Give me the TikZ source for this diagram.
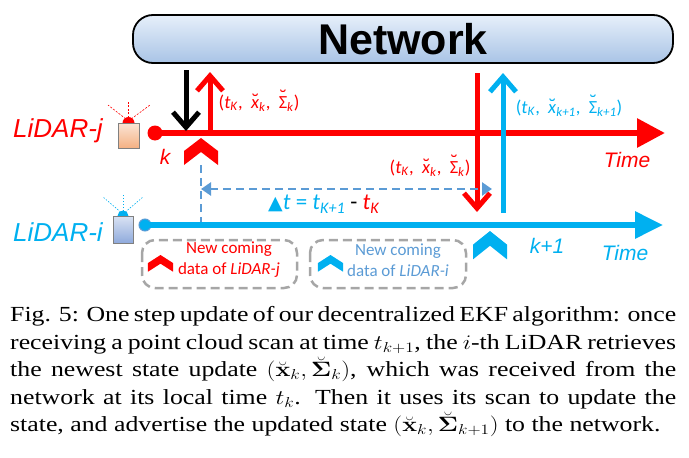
\documentclass[tikz,border=0pt]{standalone}
\usepackage[no-math]{fontspec}
\usepackage{graphicx}
\setmainfont{Liberation Serif}
\newfontfamily\carl{Carlito}
\newfontfamily\arl{Liberation Sans}
\newfontfamily\djv{DejaVu Sans}
\usetikzlibrary{arrows.meta}
\definecolor{jred}{HTML}{FF0000}
\definecolor{iblue}{HTML}{00B0F0}
\definecolor{dblue}{HTML}{5B9BD5}
\definecolor{bgray}{HTML}{A6A6A6}
\definecolor{netT}{HTML}{E6EFFA}
\definecolor{netB}{HTML}{A9C4E6}
\definecolor{peachT}{HTML}{FBE5D6}
\definecolor{peachB}{HTML}{F4B183}
\definecolor{lblueT}{HTML}{DAE3F3}
\definecolor{lblueB}{HTML}{8FAADC}
\newcommand\chevmark[5]{% x y xscale yscale color
  \fill[#5,shift={(#1,#2)},xscale=#3,yscale=#4] (0,0) -- (17,13) -- (17,27) -- (0,14) -- (-17,27) -- (-17,13) -- cycle;}
\newcommand\brv[2]{\leavevmode\ooalign{#2\cr\hidewidth\raisebox{#1}{\djv\char"02D8}\hidewidth\cr}}
\newcommand\tupl[2]{(\textit{t}\textsubscript{\textit{K}},\ \ \brv{0pt}{\textit{x}}\textsubscript{\textit{#1}},\ \ \brv{3.8pt}{Σ}\textsubscript{\textit{#2}})}
\tikzset{
  timeline/.style={line width=6pt},
  shaft/.style={line width=5pt, -{Straight Barb[length=15pt,width=26pt]}},
  tuplabel/.style={font=\carl\fontsize{18.5}{18.5}\selectfont, inner sep=0},
  biglabel/.style={font=\arl\itshape\fontsize{26}{26}\selectfont, inner sep=0},
  timelabel/.style={font=\arl\itshape\fontsize{21}{21}\selectfont, inner sep=0},
  legendbox/.style={draw=bgray, line width=2.5pt, dash pattern=on 9pt off 5pt, rounded corners=13pt},
  legendtext/.style={font=\carl\fontsize{17}{21}\selectfont, inner sep=0, align=center},
  dimline/.style={draw=dblue, line width=2.5pt, dash pattern=on 8pt off 5pt},
}
\begin{document}
\begin{tikzpicture}[x=1pt,y=-1pt]
\useasboundingbox (0,0) rectangle (689,458);
% network
\node[draw=black, line width=1.8pt, rounded corners=20pt, top color=netT, bottom color=netB,
  minimum width=540pt, minimum height=48pt, inner sep=0,
  font=\arl\bfseries\fontsize{43}{43}\selectfont] (net) at (403,39) {Network};
% sensors
\draw[jred, line width=0.6pt, dash pattern=on 2pt off 1.5pt] (128.5,121) -- (108,105);
\draw[jred, line width=0.6pt, dash pattern=on 2pt off 1.5pt] (128.5,121) -- (128.5,100);
\draw[jred, line width=0.6pt, dash pattern=on 2pt off 1.5pt] (128.5,121) -- (150,105);
\fill[jred] (128.5,123) circle (6);
\draw[gray, line width=0.8pt, top color=peachT, bottom color=peachB] (118,123) rectangle (139,148);
\draw[iblue, line width=0.6pt, dash pattern=on 1.5pt off 1.5pt] (123,214) -- (103,197);
\draw[iblue, line width=0.6pt, dash pattern=on 1.5pt off 1.5pt] (123,214) -- (123,193);
\draw[iblue, line width=0.6pt, dash pattern=on 1.5pt off 1.5pt] (123,214) -- (143,197);
\fill[iblue] (123,216) circle (5.5);
\draw[gray, line width=0.8pt, top color=lblueT, bottom color=lblueB] (113,216) rectangle (133,243);
% LiDAR labels
\node[biglabel, text=jred] (lj) at (58,131) {LiDAR-j};
\node[biglabel, text=iblue] (li) at (58,232) {LiDAR-i};
% time lines
\node[circle, fill=jred, minimum size=15pt, inner sep=0] (jdot) at (155,133) {};
\coordinate (jend) at (665,133);
\draw[timeline, jred, -{Triangle[length=28pt,width=28pt]}] (jdot.center) -- (jend);
\node[circle, fill=iblue, draw=dblue, line width=1pt, minimum size=12pt, inner sep=0] (idot) at (145,225) {};
\coordinate (iend) at (663,225);
\draw[timeline, iblue, -{Triangle[length=28pt,width=26pt]}] (idot.center) -- (iend);
% vertical arrows
\coordinate (b1) at (186,70);  \coordinate (b2) at (186,131);
\draw[shaft, black] (b1) -- (b2);
\coordinate (r1) at (210,131); \coordinate (r2) at (210,72);
\draw[shaft, jred] (r1) -- (r2);
\coordinate (r3) at (477,73);  \coordinate (r4) at (477,212);
\draw[shaft, jred] (r3) -- (r4);
\coordinate (c1) at (503,213); \coordinate (c2) at (503,73);
\draw[shaft, iblue] (c1) -- (c2);
% chevrons
\chevmark{201}{138}{1}{1}{jred}
\chevmark{490}{231}{1}{1.05}{iblue}
% dimension
\coordinate (d0) at (201,165); \coordinate (d1) at (201,222);
\draw[dimline] (d0) -- (d1);
\coordinate (h0) at (201,189); \coordinate (h1) at (492,189);
\draw[dimline, {Triangle[length=10pt,width=13pt]}-{Triangle[length=10pt,width=13pt]}] (h0) -- (h1);
\node[font=\carl\fontsize{23}{23}\selectfont, inner sep=0, text=iblue] (dt) at (324,204)
  {{\djv\fontsize{19}{19}\selectfont ▲}\textit{t} = \textit{t}\textsubscript{\textit{K+1}} {\color{black}-} {\color{jred}\textit{t}\textsubscript{\textit{K}}}};
% labels
\node[tuplabel, text=jred] (l1) at (259,103) {\tupl{k}{k}};
\node[tuplabel, text=jred] (l2) at (430,168) {\tupl{k}{k}};
\node[tuplabel, text=iblue] (l3) at (569,108) {\tupl{k+1}{k+1}};
\node[timelabel, text=jred] (kk) at (165,157) {k};
\node[timelabel, text=iblue] (kk1) at (547,246) {k+1};
\node[timelabel, text=jred] (tj) at (627,160) {Time};
\node[timelabel, text=iblue] (ti) at (625,253) {Time};
% legend
\draw[legendbox] (142,240) rectangle (297,288);
\draw[legendbox] (310,240) rectangle (466,288);
\chevmark{160.5}{255}{0.74}{0.62}{jred}
\chevmark{330.5}{255}{0.74}{0.62}{iblue}
\node[legendtext, text=jred] (t1) at (229,260) {New coming\\data of \textit{LiDAR-j}};
\node[legendtext, text=dblue] (t2) at (398,260) {New coming\\data of \textit{LiDAR-i}};
% caption
\node[anchor=base west, inner sep=0] (cap) at (10,321.7) {\scalebox{1.2}[1]{\parbox[t]{555pt}{%
\fontsize{21.5}{27.5}\selectfont\hyphenpenalty=10000\rightskip=0pt plus 0pt
Fig. 5: One step update of our decentralized EKF algorithm: once\linebreak
receiving a point cloud scan at time $t_{k+1}$, the $i$-th LiDAR retrieves\linebreak
the newest state update $(\breve{\mathbf{x}}_k,\breve{\mathbf{\Sigma}}_k)$, which was received from the\linebreak
network at its local time $t_k$. Then it uses its scan to update the\linebreak
state, and advertise the updated state $(\breve{\mathbf{x}}_k,\breve{\mathbf{\Sigma}}_{k+1})$ to the network.}}};
\end{tikzpicture}
\end{document}
